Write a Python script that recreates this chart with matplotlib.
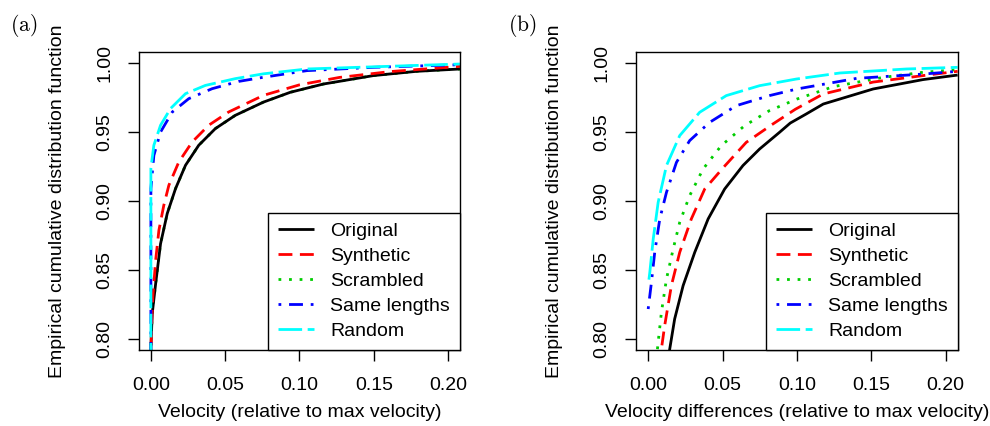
import numpy as np
import matplotlib.pyplot as plt

plt.rcParams['font.family'] = ['Liberation Sans', 'DejaVu Sans']
plt.rcParams['mathtext.fontset'] = 'cm'

series_names = ['Original', 'Synthetic', 'Scrambled', 'Same lengths', 'Random']
series_colors = ['#000000', '#FF0000', '#00CD00', '#0000FF', '#00FFFF']
# R-style lty 1..5 (solid, dashed, dotted, dotdash, longdash)
series_dashes = [(0, ()), (0, (5, 2.7)), (0, (1, 2.8)), (0, (1, 2.8, 5, 2.8)), (0, (8.5, 2))]

# (a) velocities
orig_a_x = [0.0, 0.0, 0.0009, 0.0032, 0.0065, 0.011, 0.0166, 0.0233, 0.0322, 0.0434, 0.0568, 0.0758, 0.0938, 0.1161, 0.1497, 0.1788, 0.208]
orig_a_y = [0.78, 0.794, 0.8184, 0.840, 0.869, 0.8909, 0.909, 0.9259, 0.9404, 0.9525, 0.9621, 0.9717, 0.9788, 0.9848, 0.9909, 0.994, 0.9957]
synth_a_x = [0.0, 0.0003, 0.0013, 0.0032, 0.0054, 0.0087, 0.0121, 0.0188, 0.0278, 0.0389, 0.0523, 0.0758, 0.10, 0.127, 0.1609, 0.208]
synth_a_y = [0.78, 0.804, 0.8304, 0.857, 0.8788, 0.8969, 0.9114, 0.9283, 0.9428, 0.9549, 0.9645, 0.9766, 0.9842, 0.9896, 0.9938, 0.9976]
# scrambling keeps the velocity distribution, so this curve sits under the original
scram_a_x = [0.0, 0.0, 0.0009, 0.0032, 0.0065, 0.011, 0.0166, 0.0233, 0.0322, 0.0434, 0.0568, 0.0758, 0.0938, 0.1161, 0.1497, 0.1788, 0.208]
scram_a_y = [0.78, 0.794, 0.8184, 0.840, 0.869, 0.8909, 0.909, 0.9259, 0.9404, 0.9525, 0.9621, 0.9717, 0.9788, 0.9848, 0.9909, 0.994, 0.9957]
same_a_x = [0.0, 0.0, 0.002, 0.0065, 0.0144, 0.0255, 0.0412, 0.0591, 0.0758, 0.105, 0.1497, 0.208]
same_a_y = [0.78, 0.909, 0.933, 0.950, 0.9645, 0.9742, 0.9814, 0.9867, 0.9897, 0.9945, 0.9969, 0.9988]
rand_a_x = [0.0, 0.0, 0.002, 0.0065, 0.0132, 0.0233, 0.0367, 0.0568, 0.0758, 0.105, 0.208]
rand_a_y = [0.78, 0.9237, 0.9404, 0.9549, 0.967, 0.9778, 0.9838, 0.9887, 0.9922, 0.9957, 0.9993]

# (b) velocity differences
orig_b_x = [0.0128, 0.0145, 0.0178, 0.0235, 0.0313, 0.0403, 0.0514, 0.0637, 0.0749, 0.0883, 0.0955, 0.1061, 0.1177, 0.1512, 0.1847, 0.208]
orig_b_y = [0.78, 0.7928, 0.8145, 0.8387, 0.8628, 0.887, 0.9087, 0.9257, 0.9377, 0.9498, 0.9565, 0.963, 0.9703, 0.9812, 0.988, 0.9913]
synth_b_x = [0.0075, 0.0089, 0.0111, 0.0156, 0.0212, 0.029, 0.038, 0.0503, 0.0659, 0.0838, 0.0989, 0.1177, 0.1512, 0.1847, 0.208]
synth_b_y = [0.78, 0.7928, 0.8097, 0.8387, 0.8628, 0.887, 0.9087, 0.924, 0.9425, 0.9558, 0.9665, 0.9776, 0.9862, 0.9909, 0.994]
scram_b_x = [0.0055, 0.0067, 0.0089, 0.0123, 0.0168, 0.0212, 0.0279, 0.0369, 0.0491, 0.0648, 0.0815, 0.1, 0.1245, 0.1579, 0.1847, 0.208]
scram_b_y = [0.785, 0.7976, 0.8193, 0.8435, 0.8652, 0.8846, 0.9039, 0.9232, 0.9401, 0.9546, 0.9655, 0.9739, 0.9829, 0.9896, 0.9933, 0.9952]
same_b_x = [0.0, 0.0022, 0.0044, 0.0078, 0.0123, 0.019, 0.0279, 0.0413, 0.0592, 0.0815, 0.1, 0.1401, 0.1847, 0.208]
same_b_y = [0.8217, 0.8411, 0.8628, 0.887, 0.9063, 0.928, 0.9438, 0.957, 0.9691, 0.9764, 0.9812, 0.9889, 0.992, 0.994]
rand_b_x = [0.0005, 0.0011, 0.0034, 0.0067, 0.0123, 0.0212, 0.0346, 0.0525, 0.0749, 0.0995, 0.1289, 0.1736, 0.208]
rand_b_y = [0.843, 0.8483, 0.8725, 0.899, 0.9257, 0.9474, 0.9643, 0.9764, 0.9836, 0.9884, 0.9928, 0.9957, 0.9969]

x_ticks = [0.0, 0.05, 0.10, 0.15, 0.20]
y_ticks = [0.80, 0.85, 0.90, 0.95, 1.00]

panels = [
    ('(a)', 'Velocity (relative to max velocity)',
     [(orig_a_x, orig_a_y), (synth_a_x, synth_a_y), (scram_a_x, scram_a_y), (same_a_x, same_a_y), (rand_a_x, rand_a_y)]),
    ('(b)', 'Velocity differences (relative to max velocity)',
     [(orig_b_x, orig_b_y), (synth_b_x, synth_b_y), (scram_b_x, scram_b_y), (same_b_x, same_b_y), (rand_b_x, rand_b_y)]),
]

fig = plt.figure(figsize=(9.9, 4.26), dpi=100)
axes_rects = [[0.1404, 0.1784, 0.3242, 0.6995], [0.6427, 0.1784, 0.3246, 0.6995]]
tag_x = [10 / 990, 508 / 990]
fs = 14

for rect, tx, (tag, xlab, curves) in zip(axes_rects, tag_x, panels):
    ax = fig.add_axes(rect)
    # draw scrambled first so the original stays on top
    order = [2, 0, 1, 3, 4]
    lines = {}
    for i in order:
        cx, cy = curves[i]
        ln, = ax.plot(cx, cy, color=series_colors[i], linestyle=series_dashes[i],
                      lw=2.0, dash_capstyle='butt', label=series_names[i])
        lines[i] = ln
    ax.set_xlim(-0.008, 0.208)
    ax.set_ylim(0.792, 1.008)
    ax.set_xticks(x_ticks)
    ax.set_yticks(y_ticks)
    ax.set_xticklabels(['%.2f' % v for v in x_ticks])
    ax.set_yticklabels(['%.2f' % v for v in y_ticks], rotation=90, va='center')
    ax.tick_params(direction='out', length=8, width=1, labelsize=fs, colors='black')
    ax.tick_params(axis='x', pad=11.5)
    ax.tick_params(axis='y', pad=10.5)
    for s in ax.spines.values():
        s.set_linewidth(1)
        s.set_color('black')
    ax.set_xlabel(xlab, fontsize=fs, va='center')
    ax.xaxis.set_label_coords(0.5, -0.211)
    ax.set_ylabel('Empirical cumulative distribution function', fontsize=fs, va='center')
    ax.yaxis.set_label_coords(-0.255, 0.5)
    leg = ax.legend([lines[i] for i in range(5)], series_names, loc='lower right',
                    bbox_to_anchor=(1, 0), borderaxespad=0, fontsize=fs,
                    handlelength=1.85, handletextpad=0.85, labelspacing=0.38,
                    borderpad=0.5, fancybox=False, framealpha=1, edgecolor='black')
    leg.get_frame().set_linewidth(1)
    fig.text(tx, 1 - 12 / 426, r'$\mathrm{' + tag + '}$', fontsize=15.5, va='top', ha='left')

fig.savefig('out.png', dpi=100)
